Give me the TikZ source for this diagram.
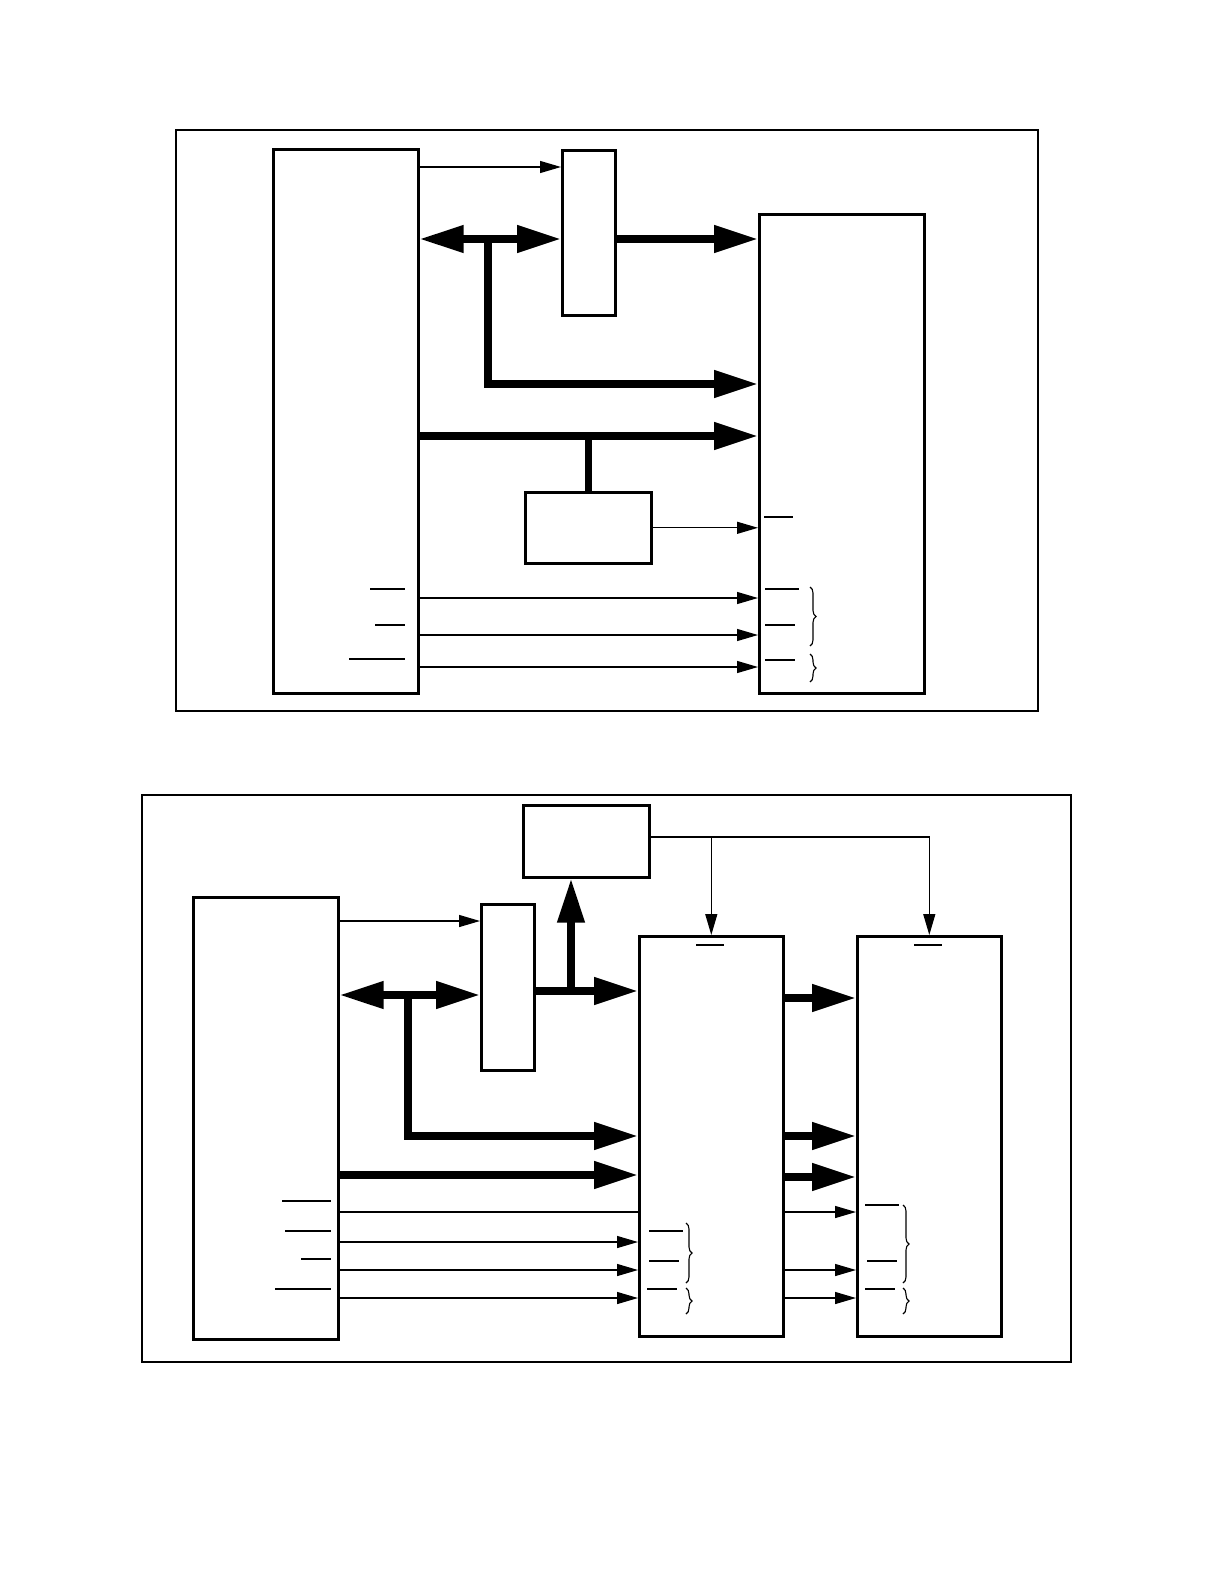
\documentclass[tikz,border=0pt]{standalone}
\usepackage{tikz}
\usetikzlibrary{arrows.meta, positioning, calc, decorations.pathreplacing}

\begin{document}
\begin{tikzpicture}[
    x=1pt, y=-1pt,
    frame/.style={draw, line width=1.6pt, anchor=north west, inner sep=0pt},
    blk/.style={draw, line width=2.6pt, anchor=north west, inner sep=0pt, fill=white},
    bus/.style={line width=7.5pt, -{Triangle[length=44pt, width=26pt]}},
    dbus/.style={line width=7.5pt, {Triangle[length=44pt, width=26pt]}-{Triangle[length=44pt, width=26pt]}},
    sig/.style={line width=1.3pt, -{Triangle[length=21pt, width=12pt]}},
    wire/.style={line width=1.3pt},
    bar/.style={line width=1.2pt},
    brc/.style={line width=1.1pt, decorate, decoration={brace, amplitude=6pt}},
]
\useasboundingbox (0,0) rectangle (1224,1584);

% ---- upper picture ----
\node[frame, minimum width=862, minimum height=581] (frameA) at (175,129) {};
\node[blk, minimum width=145, minimum height=544] (cpuA) at (272,148) {};
\node[blk, minimum width=53, minimum height=165] (latchA) at (561,149) {};
\node[blk, minimum width=165, minimum height=479] (memA) at (758,213) {};
\node[blk, minimum width=126, minimum height=71] (decA) at (524,491) {};

\draw[sig] (cpuA.east |- 0,167) -- (latchA.west |- 0,167);
\draw[dbus] (cpuA.east |- 0,239) -- (latchA.west |- 0,239);
\draw[bus] (latchA.east |- 0,239) -- (memA.west |- 0,239);
\coordinate (tapA) at (488,239);
\draw[bus] (tapA) |- (memA.west |- 0,384);
\draw[bus] (cpuA.east |- 0,436) -- (memA.west |- 0,436);
\draw[line width=7.5pt] (decA.north |- 0,436) -- (decA.north);
\draw[sig] (decA.east) -- (memA.west |- decA.east);
\foreach \yy in {598,635,667}
    \draw[sig] (cpuA.east |- 0,\yy) -- (memA.west |- 0,\yy);

% overbars
\draw[bar] (370,589) -- (405,589);
\draw[bar] (375,625) -- (405,625);
\draw[line width=2pt] (349,659) -- (405,659);
\draw[bar] (764,517) -- (793,517);
\draw[bar] (765,589) -- (799,589);
\draw[bar] (765,625) -- (795,625);
\draw[line width=2pt] (765,660) -- (795,660);
\draw[brc] (810,587) -- (810,646);
\draw[brc] (810,654) -- (810,682);

% ---- lower picture ----
\node[frame, minimum width=929, minimum height=567] (frameB) at (141,794) {};
\node[blk, minimum width=145, minimum height=442] (cpuB) at (192,896) {};
\node[blk, minimum width=53, minimum height=166] (latchB) at (480,903) {};
\node[blk, minimum width=126, minimum height=72] (decB) at (522,804) {};
\node[blk, minimum width=144, minimum height=400] (memB) at (638,935) {};
\node[blk, minimum width=144, minimum height=400] (memC) at (856,935) {};

\draw[sig] (cpuB.east |- 0,921) -- (latchB.west |- 0,921);
\draw[dbus] (cpuB.east |- 0,995) -- (latchB.west |- 0,995);
\coordinate (tapB) at (408,995);
\draw[bus] (tapB) |- (memB.west |- 0,1136);
\draw[bus] (latchB.east |- 0,991) -- (memB.west |- 0,991);
\coordinate (tapC) at (571,991);
\draw[bus] (tapC) -- (tapC |- decB.south);
\draw[bus] (cpuB.east |- 0,1175) -- (memB.west |- 0,1175);
\foreach \yy in {998,1136,1177}
    \draw[bus] (memB.east |- 0,\yy) -- (memC.west |- 0,\yy);
\draw[wire] (cpuB.east |- 0,1212) -- (memB.west |- 0,1212);
\foreach \yy in {1242,1270,1298}
    \draw[sig] (cpuB.east |- 0,\yy) -- (memB.west |- 0,\yy);
\foreach \yy in {1212,1270,1298}
    \draw[sig] (memB.east |- 0,\yy) -- (memC.west |- 0,\yy);
\draw[sig] (decB.east |- 0,837) -| (memC.north);
\draw[sig] (memB.north |- 0,837) -- (memB.north);

% overbars
\draw[bar] (282,1201) -- (331,1201);
\draw[bar] (285,1231) -- (331,1231);
\draw[bar] (301,1259) -- (331,1259);
\draw[bar] (275,1289) -- (331,1289);
\draw[bar] (696,945) -- (724,945);
\draw[bar] (914,945) -- (942,945);
\draw[bar] (649,1231) -- (683,1231);
\draw[bar] (649,1261) -- (679,1261);
\draw[bar] (647,1289) -- (677,1289);
\draw[bar] (865,1205) -- (899,1205);
\draw[bar] (867,1261) -- (897,1261);
\draw[bar] (865,1289) -- (895,1289);
\draw[brc] (686,1223) -- (686,1283);
\draw[brc] (686,1288) -- (686,1314);
\draw[brc] (903,1205) -- (903,1283);
\draw[brc] (903,1288) -- (903,1314);

\end{tikzpicture}
\end{document}
